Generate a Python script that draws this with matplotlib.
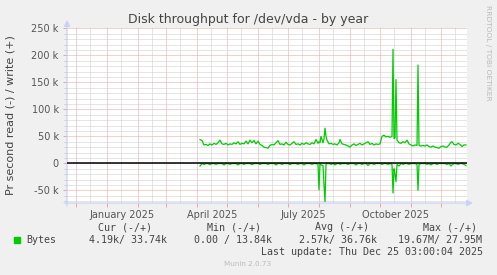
import numpy as np
import pandas as pd
import matplotlib.pyplot as plt

# day of 2025 (0 = Jan 1)
day = [
    93, 95, 97, 99, 101, 103, 105, 107, 109, 111,
    113, 115, 117, 119, 121, 123, 125, 127, 129, 131,
    133, 135, 137, 139, 141, 143, 145, 147, 149, 151,
    153, 155, 157, 159, 161, 163, 165, 167, 169, 171,
    173, 175, 177, 179, 181, 183, 185, 187, 189, 191,
    193, 195, 197, 199, 201, 203, 205, 207, 209, 211,
    212, 213, 214, 216, 217, 218, 219, 220, 222, 224,
    226, 228, 230, 232, 233, 235, 237, 239, 241, 243,
    245, 247, 249, 251, 253, 255, 257, 259, 261, 263,
    265, 267, 269, 271, 273, 275, 277, 279, 281, 283,
    285, 286, 287, 288, 289, 290, 292, 294, 296, 298,
    300, 302, 304, 306, 308, 310, 311, 312, 314, 316,
    318, 320, 322, 324, 326, 328, 330, 332, 334, 336,
    338, 340, 342, 344, 345, 347, 349, 351, 353, 355,
    357, 359,
]

# write bytes/s (+), in k
write_k = [
    44, 42, 34, 35, 33, 36, 34, 37, 35, 38,
    43, 36, 35, 37, 34, 36, 35, 38, 36, 40,
    35, 37, 36, 41, 36, 43, 38, 42, 36, 41,
    35, 33, 30, 29, 28, 33, 35, 34, 38, 42,
    35, 36, 34, 39, 35, 34, 37, 40, 35, 36,
    34, 37, 35, 38, 36, 35, 38, 36, 44, 37,
    40, 38, 50, 38, 45, 65, 50, 43, 36, 37,
    35, 36, 34, 38, 44, 36, 35, 34, 32, 30,
    34, 36, 33, 35, 37, 34, 36, 38, 40, 35,
    37, 34, 36, 35, 36, 50, 52, 49, 50, 48,
    50, 211, 46, 47, 155, 43, 38, 37, 40, 38,
    43, 36, 34, 32, 34, 33, 182, 33, 32, 33,
    32, 34, 31, 30, 32, 30, 29, 28, 31, 32,
    30, 30, 34, 39, 40, 35, 34, 37, 35, 31,
    34, 34,
]

# read bytes/s (-), in k
read_k = [
    -5, -0.5, -2, -0.5, -0.5, -2.5, -0.5, -0.5, -2, -0.5,
    -0.5, -0.5, -3, -0.5, -0.5, -2, -0.5, -0.5, -0.5, -3,
    -0.5, -0.5, -2, -0.5, -0.5, -0.5, -2.5, -0.5, -0.5, -0.5,
    -2, -0.5, -0.5, -0.5, -2, -0.5, -0.5, -0.5, -3, -0.5,
    -0.5, -2, -0.5, -0.5, -0.5, -2.5, -0.5, -0.5, -0.5, -2,
    -0.5, -0.5, -3, -0.5, -0.5, -0.5, -2, -0.5, -0.5, -2,
    -49, -0.5, -3, -4, -40, -71, -2, -0.5, -0.5, -2,
    -0.5, -3, -0.5, -0.5, -2, -0.5, -0.5, -0.5, -2, -0.5,
    -0.5, -0.5, -3, -0.5, -0.5, -2, -0.5, -0.5, -4, -0.5,
    -0.5, -2, -0.5, -0.5, -0.5, -2, -0.5, -0.5, -2, -0.5,
    -2, -55, -10, -20, -34, -2, -5, -0.5, -2, -0.5,
    -0.5, -2, -0.5, -0.5, -0.5, -2, -50, -2, -0.5, -0.5,
    -0.5, -2, -0.5, -3, -0.5, -0.5, -2, -0.5, -0.5, -0.5,
    -0.5, -2, -0.5, -5, -3, -0.5, -0.5, -2, -0.5, -0.5,
    -2, -4,
]

y_ticks = [-50e3, 0, 50e3, 100e3, 150e3, 200e3, 250e3]
y_labels = ["-50 k", "0", "50 k", "100 k", "150 k", "200 k", "250 k"]
x_label_months = ["2025-01", "2025-04", "2025-07", "2025-10"]
x_labels = ["January 2025", "April 2025", "July 2025", "October 2025"]

legend_head = ["Cur (-/+)", "Min (-/+)", "Avg (-/+)", "Max (-/+)"]
legend_vals = ["4.19k/ 33.74k", "0.00 / 13.84k", "2.57k/ 36.76k", "19.67M/ 27.95M"]
series_name = "Bytes"
last_update = "Last update: Thu Dec 25 03:00:04 2025"

W, H = 497, 275
GREEN = "#00CC00"
RED_GRID = "#EBA5A5"
GRAY_GRID = "#CCCCCC"
AXIS_COL = "#C9D2F5"
TXT = "#555555"
DOTS = (0, (1, 1))


def px(x, y):
    """pixel position -> figure fraction"""
    return x / W, 1 - y / H


fig = plt.figure(figsize=(W / 100, H / 100), dpi=100, facecolor="#F0F0F0")
ax = fig.add_axes([67 / W, (H - 203) / H, 400 / W, 174.7 / H])
ax.set_facecolor("white")
for s in ax.spines.values():
    s.set_visible(False)

base = pd.Timestamp("2025-01-01")
month_start = pd.date_range("2024-12-01", "2025-12-01", freq="MS")
major_days = (month_start - base).days.values
minor_days = major_days + 14

# dotted grid
grid = dict(lw=0.72, ls=DOTS, zorder=1)
for d in minor_days:
    ax.axvline(d, color=GRAY_GRID, **grid)
for d in major_days:
    ax.axvline(d, color=RED_GRID, **grid)
for v in np.arange(-70e3, 251e3, 10e3):
    col = RED_GRID if v % 50e3 == 0 else GRAY_GRID
    ax.axhline(v, color=col, **grid)

ax.plot(day, np.array(write_k) * 1e3, color=GREEN, lw=0.9, zorder=3)
ax.plot(day, np.array(read_k) * 1e3, color=GREEN, lw=0.9, zorder=3)
ax.axhline(0, color="black", lw=1.1, zorder=4)

ax.set_xlim(-40, 360)
ax.set_ylim(-73.5e3, 250e3)

# y ticks
ax.set_yticks(y_ticks, y_labels)
ax.set_yticks(np.arange(-70e3, 251e3, 10e3), minor=True)
ax.tick_params(axis="y", which="major", length=3, width=0.7, color=RED_GRID,
               labelsize=7, labelcolor=TXT, pad=3)
ax.tick_params(axis="y", which="minor", length=2, width=0.7, color=GRAY_GRID)

# x labels centred on the month
lab_start = pd.to_datetime(x_label_months)
lab_end = lab_start + pd.offsets.MonthBegin(1)
lab_pos = ((lab_start - base).days.values + (lab_end - base).days.values) / 2
ax.set_xticks(lab_pos, x_labels)
ax.set_xticks(major_days, minor=True)
ax.tick_params(axis="x", which="major", length=0, labelsize=7,
               labelcolor=TXT, pad=5)
ax.tick_params(axis="x", which="minor", length=3, width=0.7, color=RED_GRID)

# axis arrows
arrow = dict(arrowstyle="-|>,head_length=0.35,head_width=0.18", color=AXIS_COL,
             lw=0.9, shrinkA=0, shrinkB=0)
ax.annotate("", xy=(0, 1.047), xytext=(0, -0.017), xycoords="axes fraction",
            arrowprops=arrow, annotation_clip=False)
ax.annotate("", xy=(1.015, 0), xytext=(-0.0075, 0), xycoords="axes fraction",
            arrowprops=arrow, annotation_clip=False)

# titles
fig.text(*px(248, 19), "Disk throughput for /dev/vda - by year", ha="center",
         va="center", fontsize=9, color="#444444")
fig.text(*px(11, 115), "Pr second read (-) / write (+)", rotation=90,
         ha="center", va="center", fontsize=8, color="#444444")
fig.text(*px(488, 53), "RRDTOOL / TOBI OETIKER", rotation=-90, ha="center",
         va="center", fontsize=5.4, color="#BBBBBB")

# legend
mono = dict(family="DejaVu Sans Mono", fontsize=7.2, color="#444444", va="center")
for x, t in zip([98, 207, 315, 423], legend_head):
    fig.text(*px(x, 227.3), t, ha="left", **mono)
fig.patches.append(plt.Rectangle(px(14, 242.7), 6 / W, 6 / H, color=GREEN,
                                 transform=fig.transFigure))
fig.text(*px(26, 239.7), series_name, ha="left", **mono)
for x, t in zip([89, 194, 299, 398], legend_vals):
    fig.text(*px(x, 239.7), t, ha="left", **mono)
fig.text(*px(483, 251.7), last_update, ha="right", **mono)
fig.text(*px(248, 264), "Munin 2.0.73", ha="center", va="center",
         fontsize=5.2, color="#BBBBBB")

fig.savefig("out.png", dpi=100, facecolor=fig.get_facecolor())
